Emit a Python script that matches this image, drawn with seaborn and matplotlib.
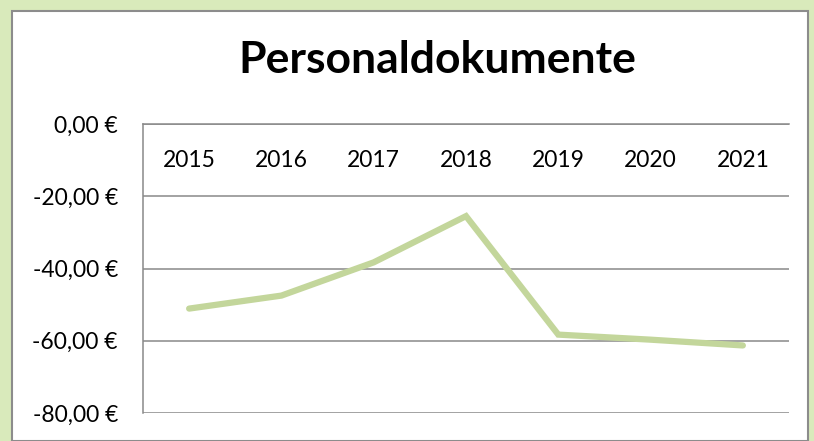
import matplotlib
matplotlib.use("Agg")
import matplotlib.pyplot as plt
from matplotlib.patches import Rectangle
import pandas as pd
import seaborn as sns

# chart data
years = ["2015", "2016", "2017", "2018", "2019", "2020", "2021"]
costs = [-51.1, -47.5, -38.3, -25.5, -58.3, -59.7, -61.3]
y_ticks = [0, -20, -40, -60, -80]
y_labels = ["0,00 €", "-20,00 €", "-40,00 €", "-60,00 €", "-80,00 €"]

df = pd.DataFrame({"Jahr": years, "Betrag": costs})

sns.set_theme(style="white")
plt.rcParams["font.family"] = ["Lato", "DejaVu Sans"]

fig = plt.figure(figsize=(8.14, 4.41), dpi=100)
fig.patch.set_facecolor("#d9eabb")

# white chart area with grey border
W, H = 814, 441
fig.patches.append(Rectangle((12 / W, 0), (808 - 12) / W, (H - 11) / H,
                             transform=fig.transFigure, facecolor="white",
                             edgecolor="#8c8c8c", linewidth=1.5, zorder=-1))

ax = fig.add_axes([143 / W, (H - 413) / H, (789 - 143) / W, (413 - 124) / H])
ax.set_facecolor("white")

sns.lineplot(data=df, x="Jahr", y="Betrag", ax=ax, color="#c3d69b",
             linewidth=4.5, solid_capstyle="round", solid_joinstyle="miter")

ax.set_xlim(-0.5, len(years) - 0.5)
ax.set_ylim(-80, 0)
ax.set_yticks(y_ticks)
ax.set_yticklabels(y_labels)
ax.yaxis.grid(True, color="#898989", linewidth=1.1)
ax.set_axisbelow(True)

for side in ["right", "bottom"]:
    ax.spines[side].set_visible(False)
for side in ["left", "top"]:
    ax.spines[side].set_color("#898989")
    ax.spines[side].set_linewidth(1.1)

ax.xaxis.set_ticks_position("top")
ax.tick_params(axis="x", length=0, pad=-34, labelsize=16.5, colors="black")
ax.tick_params(axis="y", length=0, pad=18, labelsize=16.5, colors="black")
ax.set_xlabel("")
ax.set_ylabel("")

fig.text(437 / W, 1 - 60 / H, "Personaldokumente", ha="center", va="center",
         fontsize=32, fontweight="bold", color="black")

fig.savefig("out.png", dpi=100, facecolor=fig.get_facecolor())
